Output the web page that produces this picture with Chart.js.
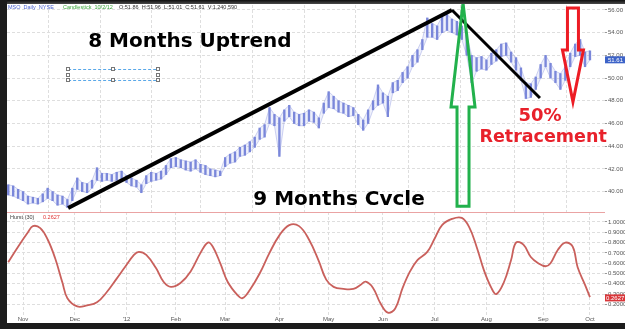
<!DOCTYPE html>
<html>
<head>
<meta charset="utf-8">
<script src="https://cdn.jsdelivr.net/npm/chart.js@4.4.1/dist/chart.umd.min.js"></script>
<style>
  html, body { margin: 0; padding: 0; background: #fff; }
  #wrap { position: relative; width: 625px; height: 329px; overflow: hidden; background: #fff; }
  #top { position: absolute; left: 7px; top: 0; }
  #bot { position: absolute; left: 7px; top: 212px; }
  .frame { position: absolute; background: #1c1c1c; }
</style>
</head>
<body>
<div id="wrap">
  <div id="top"><canvas id="priceChart" width="618" height="212"></canvas></div>
  <div id="bot"><canvas id="hurstChart" width="618" height="111"></canvas></div>
  <div class="frame" style="left:0;top:0;width:625px;height:4px;background:linear-gradient(#0e0e0e,#4a4a4a)"></div>
  <div class="frame" style="left:0;top:0;width:7px;height:329px"></div>
  <div class="frame" style="left:0;top:323px;width:625px;height:6px"></div>
</div>
<script>
// ---- data -------------------------------------------------------------------
// x = trading-day index, 0 = first session of Nov 2011

const monthDays   = [0, 21, 42, 62, 82, 104, 124, 146, 167, 188, 211, 230];
const monthLabels = ['Nov', 'Dec', "'12", 'Feb', 'Mar', 'Apr', 'May', 'Jun', 'Jul', 'Aug', 'Sep', 'Oct'];

const priceTicks = [40, 42, 44, 46, 48, 50, 52, 54, 56];
const hurstTicks = [0.2, 0.3, 0.4, 0.5, 0.6, 0.7, 0.8, 0.9, 1.0];

const priceDays = [
  -6, -4, -2, 0, 2, 4, 6, 8, 10, 12, 14, 16, 18, 20, 22, 24, 26, 28, 30, 32,
  34, 36, 38, 40, 42, 44, 46, 48, 50, 52, 54, 56, 58, 60, 62, 64, 66, 68, 70, 72,
  74, 76, 78, 80, 82, 84, 86, 88, 90, 92, 94, 96, 98, 100, 102, 104, 106, 108, 110, 112,
  114, 116, 118, 120, 122, 124, 126, 128, 130, 132, 134, 136, 138, 140, 142, 144, 146, 148, 150, 152,
  154, 156, 158, 160, 162, 164, 166, 168, 170, 172, 174, 176, 178, 180, 182, 184, 186, 188, 190, 192,
  194, 196, 198, 200, 202, 204, 206, 208, 210, 212, 214, 216, 218, 220, 222, 224, 226, 228, 230
];
const priceLow = [
  39.7, 39.6, 39.4, 39.2, 38.9, 39.0, 38.9, 39.1, 39.4, 39.2, 38.8, 38.9, 38.6, 39.2, 40.2, 40.0, 39.9, 40.3, 41.0, 40.9,
  41.0, 40.9, 41.0, 41.1, 40.8, 40.5, 40.4, 39.9, 40.7, 40.9, 41.0, 41.1, 41.5, 42.1, 42.2, 42.1, 41.9, 41.8, 42.0, 41.7,
  41.5, 41.4, 41.3, 41.4, 42.2, 42.5, 42.6, 43.1, 43.2, 43.5, 43.9, 44.6, 44.8, 46.0, 45.8, 43.1, 46.2, 46.6, 46.0, 45.8,
  45.8, 46.2, 46.1, 45.6, 46.9, 47.4, 47.3, 47.0, 46.9, 46.6, 46.7, 45.9, 45.4, 46.0, 47.2, 47.6, 47.8, 46.6, 48.7, 48.9,
  49.6, 50.0, 51.0, 51.4, 52.5, 53.6, 53.6, 53.4, 54.0, 54.2, 54.0, 53.8, 53.4, 52.0, 49.6, 50.6, 50.8, 50.7, 51.2, 51.5,
  51.9, 52.0, 51.4, 50.7, 49.8, 48.2, 48.3, 49.0, 50.0, 51.0, 50.0, 49.6, 49.0, 49.8, 51.0, 51.9, 52.0, 51.0, 51.6
];
const priceHigh = [
  40.6, 40.5, 40.2, 40.0, 39.6, 39.5, 39.4, 39.8, 40.3, 40.0, 39.7, 39.6, 39.3, 40.3, 41.2, 40.8, 40.7, 41.0, 42.1, 41.6,
  41.6, 41.5, 41.7, 41.8, 41.4, 41.2, 41.0, 40.6, 41.4, 41.7, 41.6, 41.8, 42.3, 42.9, 43.0, 42.8, 42.7, 42.6, 42.8, 42.4,
  42.3, 42.0, 41.9, 41.8, 43.0, 43.3, 43.5, 43.9, 44.1, 44.4, 44.8, 45.6, 45.9, 47.4, 46.8, 46.5, 47.2, 47.6, 47.0, 46.8,
  46.9, 47.2, 47.0, 46.5, 47.8, 48.8, 48.4, 48.0, 47.8, 47.6, 47.4, 46.8, 46.3, 47.2, 48.0, 49.4, 48.7, 48.4, 49.6, 49.8,
  50.5, 51.0, 52.0, 52.5, 53.4, 55.3, 54.8, 54.6, 55.4, 55.6, 55.2, 55.0, 54.6, 53.8, 52.0, 51.8, 51.9, 51.6, 52.2, 52.5,
  53.0, 53.1, 52.3, 51.8, 50.9, 49.6, 49.5, 50.1, 51.2, 52.0, 51.3, 50.6, 50.4, 51.0, 52.2, 53.0, 53.4, 52.3, 52.4
];
const lastPrice = 51.61;

const hurstDays = [
  -6, -2, 2, 4, 7, 10, 13, 16, 18, 22, 26, 30, 34, 38, 41, 45, 47, 50, 54, 57,
  60, 64, 68, 72, 75, 77, 80, 83, 87, 89, 92, 96, 100, 104, 108, 112, 116, 120, 123, 126,
  130, 134, 137, 139, 142, 145, 148, 151, 154, 157, 160, 164, 167, 170, 174, 178, 181, 184, 187, 190,
  192, 195, 198, 200, 203, 206, 209, 212, 214, 217, 220, 223, 225, 228, 230
];
const hurstVals = [
  0.61, 0.76, 0.90, 0.96, 0.94, 0.83, 0.65, 0.41, 0.26, 0.18, 0.19, 0.22, 0.32, 0.45, 0.55, 0.68, 0.71, 0.68, 0.55, 0.42,
  0.37, 0.41, 0.52, 0.70, 0.80, 0.76, 0.60, 0.42, 0.29, 0.26, 0.34, 0.50, 0.70, 0.87, 0.97, 0.96, 0.83, 0.62, 0.44, 0.37,
  0.35, 0.35, 0.39, 0.42, 0.36, 0.21, 0.12, 0.16, 0.36, 0.52, 0.63, 0.71, 0.84, 0.97, 1.03, 1.04, 0.95, 0.76, 0.53, 0.36,
  0.30, 0.41, 0.63, 0.80, 0.78, 0.66, 0.60, 0.57, 0.60, 0.73, 0.80, 0.76, 0.56, 0.39, 0.27
];
const lastHurst = 0.2627;

// annotations, in (trading day, price)
const trendUp   = [[18.3, 38.56], [174, 56.0]];
const trendDown = [[174, 56.0], [209.7, 48.25]];
const greenArrow = { x: 178.5, tail: 38.7, tip: 56.62 };
const redArrow   = { x: 223.1, tail: 56.18, tip: 47.9 };
const selBox = { x0: 18.3, x1: 54.8, top: 50.8, bottom: 49.83 };

// ---- helpers ----------------------------------------------------------------

const GRID = '#dedede';
const BAR = '#7a87da';
const AXIS_FONT = { family: 'Liberation Sans', size: 6 };

function noPad(s) {
  s.paddingTop = 0; s.paddingBottom = 0; s.paddingLeft = 0; s.paddingRight = 0;
}

// hollow block arrow, vertical; sizes in px
function blockArrow(ctx, x, yTail, yTip, headLen, headHalf, shaftHalf, color) {
  const dir = yTip < yTail ? 1 : -1;      // 1 = pointing up
  const yBase = yTip + dir * headLen;
  ctx.save();
  ctx.strokeStyle = color;
  ctx.lineWidth = 3;
  ctx.lineJoin = 'miter';
  ctx.beginPath();
  ctx.moveTo(x, yTip);
  ctx.lineTo(x + headHalf, yBase);
  ctx.lineTo(x + shaftHalf, yBase);
  ctx.lineTo(x + shaftHalf, yTail);
  ctx.lineTo(x - shaftHalf, yTail);
  ctx.lineTo(x - shaftHalf, yBase);
  ctx.lineTo(x - headHalf, yBase);
  ctx.closePath();
  ctx.stroke();
  ctx.restore();
}

const notesPlugin = {
  id: 'notes',
  afterDatasetsDraw(chart) {
    const { ctx, chartArea, scales: { x, y } } = chart;
    const px = v => x.getPixelForValue(v);
    const py = v => y.getPixelForValue(v);

    // header line
    ctx.save();
    ctx.font = '5.5px "Liberation Sans"';
    ctx.textBaseline = 'alphabetic';
    ctx.fillStyle = '#4b63d0';
    ctx.fillText('MSO  Daily  NYSE', 1, 9);
    ctx.fillStyle = '#3aa63a';
    ctx.fillText('Candlestick  10/2/12', 56, 9);
    ctx.fillStyle = '#333';
    ctx.fillText('O:51.86  H:51.96  L:51.01  C:51.61  V:1,240,590', 112, 9);
    ctx.restore();

    // selection box left over from the editor
    ctx.save();
    ctx.strokeStyle = '#5aa8e8';
    ctx.lineWidth = 1;
    ctx.setLineDash([3, 2]);
    const bx0 = px(selBox.x0), bx1 = px(selBox.x1), by0 = py(selBox.top), by1 = py(selBox.bottom);
    ctx.beginPath();
    ctx.moveTo(bx0, by0 + 0.5); ctx.lineTo(bx1, by0 + 0.5);
    ctx.moveTo(bx0, by1 + 0.5); ctx.lineTo(bx1, by1 + 0.5);
    ctx.stroke();
    ctx.setLineDash([]);
    ctx.strokeStyle = '#777';
    ctx.fillStyle = '#fff';
    const bxm = (bx0 + bx1) / 2, bym = (by0 + by1) / 2;
    [[bx0, by0], [bxm, by0], [bx1, by0], [bx0, bym], [bx1, bym], [bx0, by1], [bxm, by1], [bx1, by1]]
      .forEach(([hx, hy]) => {
        ctx.fillRect(hx - 1.5, hy - 1.5, 3, 3);
        ctx.strokeRect(Math.round(hx) - 1.5, Math.round(hy) - 1.5, 3, 3);
      });
    ctx.restore();

    // trend lines
    ctx.save();
    ctx.strokeStyle = '#000';
    ctx.lineCap = 'butt';
    ctx.lineWidth = 4;
    ctx.beginPath();
    ctx.moveTo(px(trendUp[0][0]), py(trendUp[0][1]));
    ctx.lineTo(px(trendUp[1][0]), py(trendUp[1][1]));
    ctx.stroke();
    ctx.lineWidth = 3;
    ctx.beginPath();
    ctx.moveTo(px(trendDown[0][0]), py(trendDown[0][1]));
    ctx.lineTo(px(trendDown[1][0]), py(trendDown[1][1]));
    ctx.stroke();
    ctx.restore();

    blockArrow(ctx, px(greenArrow.x), py(greenArrow.tail), py(greenArrow.tip), 104, 12, 6, '#22b14c');
    blockArrow(ctx, px(redArrow.x), py(redArrow.tail), py(redArrow.tip), 52, 10.5, 5.5, '#ed1c24');

    // texts
    ctx.save();
    ctx.textAlign = 'center';
    ctx.textBaseline = 'alphabetic';
    ctx.fillStyle = '#000';
    ctx.font = 'bold 20px "DejaVu Sans"';
    ctx.fillText('8 Months Uptrend', px(67.7), py(52.74));
    ctx.fillText('9 Months Cvcle', px(128.2), py(38.82));
    ctx.fillStyle = '#e8212b';
    ctx.font = 'bold 18px "DejaVu Sans"';
    ctx.fillText('50%', px(209.7), py(46.22));
    ctx.font = 'bold 17.5px "DejaVu Sans"';
    ctx.fillText('Retracement', px(211), py(44.37));
    ctx.restore();

    // last price tag
    ctx.save();
    const ty = py(lastPrice);
    ctx.fillStyle = '#3d63c8';
    ctx.fillRect(chartArea.right, ty - 3.5, 20, 7);
    ctx.fillStyle = '#fff';
    ctx.font = '6px "Liberation Sans"';
    ctx.textBaseline = 'middle';
    ctx.fillText(lastPrice.toFixed(2), chartArea.right + 3, ty + 0.5);
    ctx.restore();
  }
};

const hurstPlugin = {
  id: 'hurstNotes',
  afterDatasetsDraw(chart) {
    const { ctx, chartArea, scales: { y } } = chart;
    ctx.save();
    ctx.strokeStyle = '#eaa3a3';
    ctx.lineWidth = 1;
    ctx.beginPath();
    ctx.moveTo(0, 0.5); ctx.lineTo(chartArea.right, 0.5);
    ctx.stroke();
    ctx.font = '5.5px "Liberation Sans"';
    ctx.textBaseline = 'alphabetic';
    ctx.fillStyle = '#444';
    ctx.fillText('Hurst (30)', 3, 7);
    ctx.fillStyle = '#e03030';
    ctx.fillText(lastHurst.toFixed(4), 36, 7);
    const ty = y.getPixelForValue(lastHurst);
    ctx.fillStyle = '#d9363a';
    ctx.fillRect(chartArea.right, ty - 3.5, 20, 7);
    ctx.fillStyle = '#fff';
    ctx.font = '6px "Liberation Sans"';
    ctx.textBaseline = 'middle';
    ctx.fillText(lastHurst.toFixed(4), chartArea.right + 1, ty + 0.5);
    ctx.restore();
  }
};

// ---- charts -----------------------------------------------------------------

const xMin = -6.5, xMax = 236.1;

new Chart(document.getElementById('priceChart'), {
  type: 'bar',
  data: {
    datasets: [
      {
        // daily range ticks
        data: priceDays.map((d, i) => ({ x: d, y: [priceLow[i], priceHigh[i]] })),
        backgroundColor: BAR,
        barThickness: 1.7,
        borderSkipped: false,
        order: 1
      },
      {
        type: 'line',
        data: priceDays.map((d, i) => ({ x: d, y: priceHigh[i] })),
        borderColor: 'rgba(122,135,218,0.45)',
        borderWidth: 0.8,
        pointRadius: 0,
        tension: 0,
        fill: false,
        order: 2
      },
      {
        type: 'line',
        data: priceDays.map((d, i) => ({ x: d, y: priceLow[i] })),
        borderColor: 'rgba(122,135,218,0.45)',
        backgroundColor: 'rgba(150,160,228,0.16)',
        borderWidth: 0.8,
        pointRadius: 0,
        tension: 0,
        fill: '-1',
        order: 3
      }
    ]
  },
  options: {
    responsive: false,
    animation: false,
    layout: { padding: { top: 5, left: 0, right: 0, bottom: 0 } },
    plugins: { legend: { display: false }, tooltip: { enabled: false } },
    scales: {
      x: {
        type: 'linear', min: xMin, max: xMax, offset: false,
        afterBuildTicks: s => { s.ticks = monthDays.map(v => ({ value: v })); },
        ticks: { display: false },
        grid: { color: GRID, drawTicks: false },
        border: { display: false, dash: [3, 2] },
        afterFit: s => { s.height = 0; noPad(s); }
      },
      y: {
        position: 'right', min: 38.2, max: 56.44,
        afterBuildTicks: s => { s.ticks = priceTicks.map(v => ({ value: v })); },
        ticks: { callback: v => v.toFixed(2), font: AXIS_FONT, color: '#555', padding: 1 },
        grid: { color: GRID, tickLength: 2, tickColor: '#999' },
        border: { display: false, dash: [3, 2] },
        afterFit: s => { s.width = 20; noPad(s); }
      }
    }
  },
  plugins: [notesPlugin]
});

new Chart(document.getElementById('hurstChart'), {
  type: 'line',
  data: {
    datasets: [{
      data: hurstDays.map((d, i) => ({ x: d, y: hurstVals[i] })),
      borderColor: '#c9605c',
      borderWidth: 1.8,
      pointRadius: 0,
      tension: 0.4,
      fill: false
    }]
  },
  options: {
    responsive: false,
    animation: false,
    layout: { padding: 0 },
    plugins: { legend: { display: false }, tooltip: { enabled: false } },
    scales: {
      x: {
        type: 'linear', min: xMin, max: xMax, offset: false,
        afterBuildTicks: s => { s.ticks = monthDays.map(v => ({ value: v })); },
        ticks: {
          callback: (v, i) => monthLabels[i],
          font: AXIS_FONT, color: '#555', padding: 0, maxRotation: 0, autoSkip: false
        },
        grid: { color: GRID, drawTicks: false },
        border: { display: false, dash: [3, 2] },
        afterFit: s => { s.height = 7; noPad(s); }
      },
      y: {
        position: 'right', min: 0.087, max: 1.097,
        afterBuildTicks: s => { s.ticks = hurstTicks.map(v => ({ value: v })); },
        ticks: { callback: v => v.toFixed(4), font: AXIS_FONT, color: '#555', padding: 1 },
        grid: { color: GRID, tickLength: 2, tickColor: '#999' },
        border: { display: false, dash: [3, 2] },
        afterFit: s => { s.width = 20; noPad(s); }
      }
    }
  },
  plugins: [hurstPlugin]
});
</script>
</body>
</html>
